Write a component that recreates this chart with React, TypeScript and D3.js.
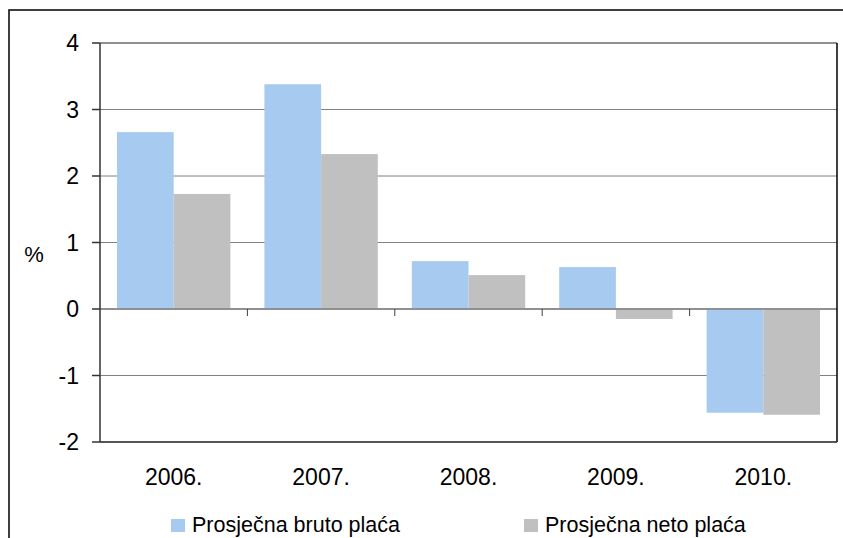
import * as d3 from 'd3'

const years = ['2006.', '2007.', '2008.', '2009.', '2010.']
const seriesNames = ['Prosječna bruto plaća', 'Prosječna neto plaća']
const bruto = [2.66, 3.38, 0.72, 0.63, -1.56]
const neto = [1.73, 2.33, 0.51, -0.15, -1.59]
const yTicks = [-2, -1, 0, 1, 2, 3, 4]
const colors = ['#A6CAF0', '#C0C0C0']

const W = 843
const H = 538
const left = 100
const right = 837
const top = 43
const bottom = 442
const font = 'Arial, "Liberation Sans", sans-serif'

export default function App() {
  const x0 = d3.scaleBand<string>().domain(years).range([left, right]).padding(0)
  const x1 = d3
    .scaleBand<string>()
    .domain(seriesNames)
    .range([0, x0.bandwidth()])
    .paddingInner(0)
    .paddingOuter(0.3)
  const y = d3.scaleLinear().domain([-2, 4]).range([bottom, top])
  const data = [bruto, neto]

  return (
    <svg
      width={W}
      height={H}
      style={{ position: 'absolute', left: 0, top: 0, background: '#fff' }}
      fontFamily={font}
    >
      {/* outer frame */}
      <rect x={9} y={10} width={W + 10} height={H + 10} fill="none" stroke="#000" strokeWidth={1.5} />

      {/* gridlines */}
      {yTicks.map((t) => (
        <line key={t} x1={left} x2={right} y1={y(t)} y2={y(t)} stroke="#808080" strokeWidth={1} />
      ))}

      {/* bars */}
      {years.map((yr, i) => (
        <g key={yr} transform={`translate(${x0(yr)},0)`}>
          {seriesNames.map((s, j) => {
            const v = data[j][i]
            return (
              <rect
                key={s}
                x={x1(s)}
                y={y(Math.max(0, v))}
                width={x1.bandwidth()}
                height={Math.abs(y(v) - y(0))}
                fill={colors[j]}
              />
            )
          })}
        </g>
      ))}

      {/* zero line and category ticks */}
      <line x1={left} x2={right} y1={y(0)} y2={y(0)} stroke="#808080" strokeWidth={1.5} />
      {years.slice(1).map((yr) => (
        <line
          key={yr}
          x1={x0(yr)}
          x2={x0(yr)}
          y1={y(0)}
          y2={y(0) + 7}
          stroke="#404040"
          strokeWidth={1}
        />
      ))}

      {/* plot box */}
      <line x1={left} x2={right} y1={top} y2={top} stroke="#808080" strokeWidth={1.5} />
      <line x1={right} x2={right} y1={top} y2={bottom} stroke="#000" strokeWidth={1.5} />
      <line x1={left} x2={right} y1={bottom} y2={bottom} stroke="#333" strokeWidth={1.5} />
      <line x1={left} x2={left} y1={top} y2={bottom} stroke="#333" strokeWidth={1.5} />

      {/* y axis */}
      {yTicks.map((t) => (
        <g key={t}>
          <line x1={left - 8} x2={left} y1={y(t)} y2={y(t)} stroke="#333" strokeWidth={1.5} />
          <text x={79} y={y(t)} dy="0.36em" textAnchor="end" fontSize={23} fill="#000">
            {t}
          </text>
        </g>
      ))}
      <text x={34} y={254} dy="0.36em" textAnchor="middle" fontSize={22} fill="#000">
        %
      </text>

      {/* x labels */}
      {years.map((yr) => (
        <text
          key={yr}
          x={(x0(yr) ?? 0) + x0.bandwidth() / 2}
          y={477}
          dy="0.36em"
          textAnchor="middle"
          fontSize={23}
          fill="#000"
        >
          {yr}
        </text>
      ))}

      {/* legend */}
      {seriesNames.map((s, j) => {
        const lx = j === 0 ? 171 : 524
        return (
          <g key={s}>
            <rect x={lx} y={519} width={14} height={13} fill={colors[j]} />
            <text x={lx + 21} y={524} dy="0.36em" fontSize={21.5} fill="#000">
              {s}
            </text>
          </g>
        )
      })}
    </svg>
  )
}
